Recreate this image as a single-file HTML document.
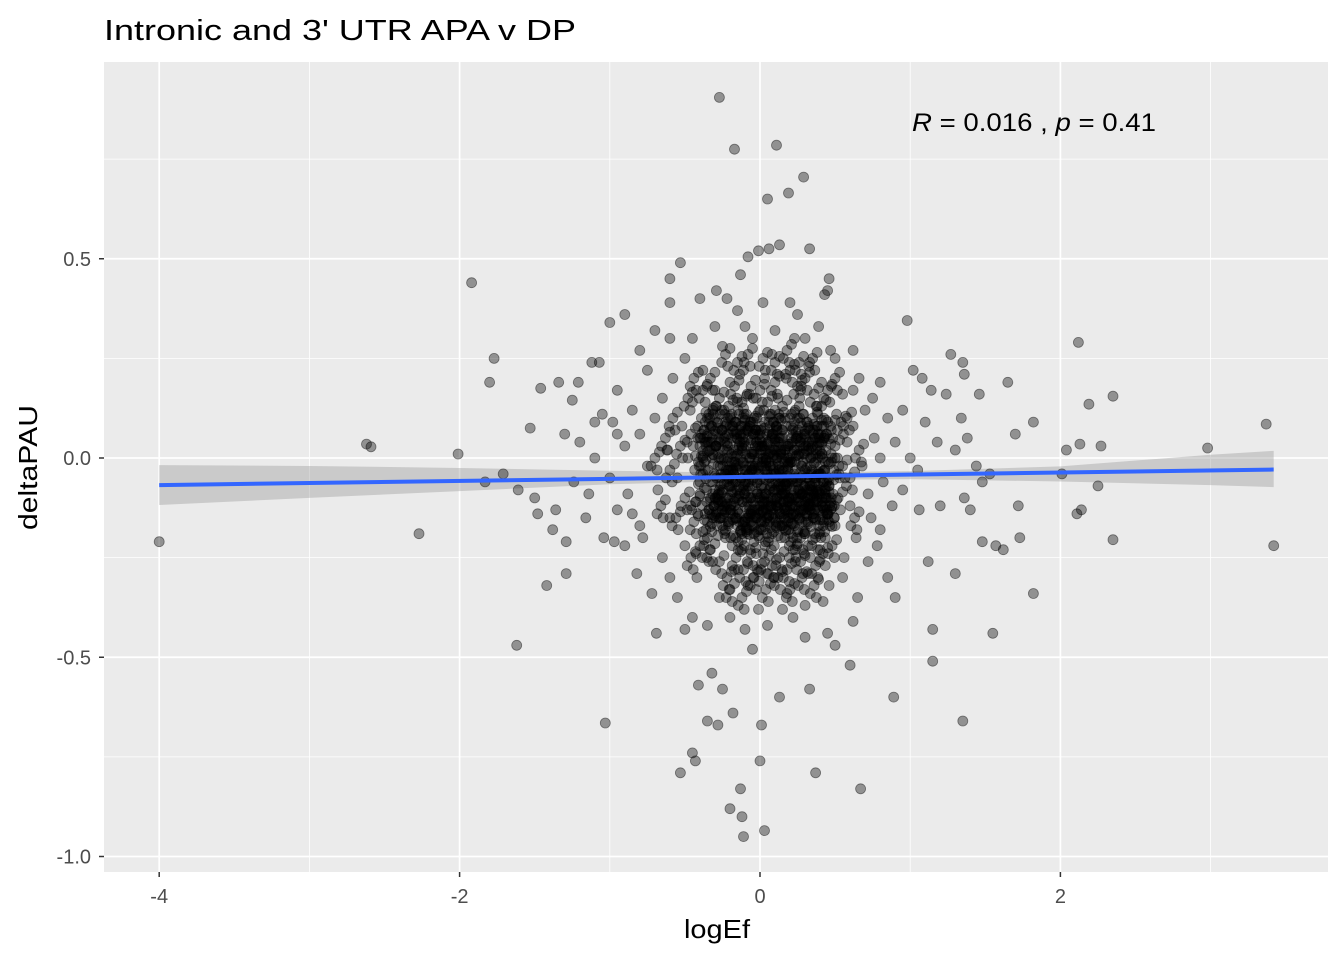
<!DOCTYPE html>
<html><head><meta charset="utf-8"><style>
html,body{margin:0;padding:0;background:#fff;}
svg{display:block;font-family:"Liberation Sans",Arial,sans-serif;}
</style></head><body>
<svg id="chart" width="1344" height="960" viewBox="0 0 1344 960" xmlns="http://www.w3.org/2000/svg">
<rect width="1344" height="960" fill="#fff"/>
<text x="104" y="40" font-size="29" fill="#000" textLength="472" lengthAdjust="spacingAndGlyphs">Intronic and 3' UTR APA v DP</text>
<rect x="104" y="62" width="1224" height="810" fill="#ebebeb"/>
<g id="grid"></g>
<g id="ribbon"></g>
<g id="points"></g>
<g id="fit"></g>
<g id="axes"></g>
<text x="912" y="131" font-size="25" fill="#000" textLength="244" lengthAdjust="spacingAndGlyphs"><tspan font-style="italic">R</tspan> = 0.016 , <tspan font-style="italic">p</tspan> = 0.41</text>
<text x="684" y="938" font-size="26" fill="#000" textLength="66" lengthAdjust="spacingAndGlyphs">logEf</text>
<text transform="translate(37,530) rotate(-90)" font-size="26" fill="#000" textLength="125" lengthAdjust="spacingAndGlyphs">deltaPAU</text>
</svg>
<script>
const xTicks = [-4, -2, 0, 2];
const xTickLabels = ["-4", "-2", "0", "2"];
const xMinor = [-3, -1, 1, 3];
const yTicks = [-1.0, -0.5, 0.0, 0.5];
const yTickLabels = ["-1.0", "-0.5", "0.0", "0.5"];
const yMinor = [-0.75, -0.25, 0.25, 0.75];
const fitX = [-4, 3.42];
const fitY = [-0.068, -0.029];
const ribbonX = [-4, -3, -2, -1, 0, 1, 2, 3, 3.42];
const ribbonLow = [-0.118, -0.100, -0.083, -0.066, -0.056, -0.053, -0.059, -0.068, -0.073];
const ribbonHigh = [-0.018, -0.020, -0.025, -0.032, -0.038, -0.033, -0.021, 0.008, 0.018];
const outlierPoints = [
[-4.0,-0.21],[-2.62,0.035],[-2.59,0.028],[-2.27,-0.19],[-2.01,0.01],[-1.92,0.44],[-1.77,0.25],[-1.80,0.19],
[-1.83,-0.06],[-1.71,-0.04],[-1.62,-0.47],[-1.61,-0.08],[-1.53,0.075],[-1.46,0.175],[-1.42,-0.32],[-1.34,0.19],
[-1.29,-0.21],[-1.29,-0.29],[-1.25,0.145],[-1.21,0.19],[-1.03,-0.665],[-1.00,0.34],[-1.07,0.24],[3.37,0.085],
[3.42,-0.22],[2.98,0.025],[2.35,0.155],[2.35,-0.205],[2.19,0.135],[2.12,0.29],[2.13,0.035],[2.27,0.03],
[2.25,-0.07],[2.14,-0.13],[2.11,-0.14],[2.04,0.02],[2.01,-0.04],[1.82,-0.34],[1.82,0.09],[1.70,0.06],
[1.65,0.19],[1.55,-0.44],[1.35,-0.66],[1.15,-0.51],[1.15,-0.43],[0.98,0.345],[0.89,-0.60],[0.60,-0.52],
[0.67,-0.83],[0.37,-0.79],[0.33,-0.58],[0.13,-0.60],[0.01,-0.67],[0.0,-0.76],[0.03,-0.935],[-0.11,-0.95],
[-0.12,-0.90],[-0.20,-0.88],[-0.13,-0.83],[-0.45,-0.74],[-0.43,-0.76],[-0.53,-0.79],[-0.28,-0.67],[-0.35,-0.66],
[-0.18,-0.64],[-0.41,-0.57],[-0.50,-0.43],[-0.69,-0.44],[-0.27,0.905],[-0.17,0.775],[0.11,0.785],[0.29,0.705],
[0.19,0.665],[0.05,0.65],[0.33,0.525],[0.13,0.535],[0.06,0.525],[-0.01,0.52],[-0.08,0.505],[-0.53,0.49],
[-0.60,0.45],[0.46,0.45],[0.45,0.42],[0.43,0.41],[-0.13,0.46],[1.62,-0.23],[1.72,-0.12],[1.73,-0.20],
[1.48,-0.21],[1.57,-0.22],[1.36,-0.10],[1.40,-0.13],[1.30,-0.29],[1.27,0.26],[1.35,0.24],[1.36,0.21],
[1.46,0.16],[1.34,0.10],[1.38,0.05],[1.24,0.16],[1.18,0.04],[1.10,0.09],[1.12,-0.26],[1.02,0.22],
[1.08,0.20],[1.14,0.17],[1.20,-0.12],[1.06,-0.13],[1.48,-0.06],[1.53,-0.04],[1.30,0.02],[1.44,-0.02],
[-1.36,-0.13],[-1.24,-0.06],[-1.10,0.00],[-1.16,-0.15],[-1.04,-0.20],[-0.97,-0.21],[-1.20,0.04],[-1.30,0.06],
[-1.48,-0.14],[-1.50,-0.10],[-1.38,-0.18],[-1.14,-0.09],[-1.05,0.11],[-0.98,0.09],[-1.12,0.24],[-0.90,0.36],
[-0.80,0.27],[-0.70,0.32],[-0.60,0.39],[-0.40,0.40],[-0.29,0.42],[-0.22,0.40],[-0.15,0.37],[0.20,0.39],
[0.25,0.36],[0.39,0.33],[0.02,0.39],[0.62,0.17],[0.80,0.19],[0.90,-0.35],[0.85,-0.30],[0.62,-0.41],
[0.50,-0.47],[0.45,-0.44],[0.30,-0.45],[0.22,-0.40],[-0.05,-0.48],[-0.25,-0.58],[-0.32,-0.54],[-0.60,-0.30],
[-0.72,-0.34],[-0.82,-0.29],[-0.90,-0.22],[-0.78,-0.20],[-0.85,-0.14],[-0.95,-0.13],[0.72,-0.26],[0.78,-0.22]
];
const corePoints = [
[-0.9,0.03],[-0.8,0.06],[-0.75,-0.02],[-0.7,0.1],[-0.68,-0.08],[-0.65,0.15],[-0.62,0.02],[-0.6,-0.15],
[-0.58,0.2],[-0.55,-0.05],[-0.52,0.08],[-0.5,-0.22],[-0.5,0.25],[-0.48,0.0],[-0.46,-0.12],[-0.45,0.14],
[-0.42,-0.3],[-0.4,0.05],[-0.4,-0.06],[-0.38,0.22],[-0.36,-0.18],[-0.35,0.1],[-0.34,-0.26],[-0.32,0.0],
[-0.3,0.17],[-0.3,-0.1],[-0.28,0.06],[-0.27,-0.35],[-0.26,-0.04],[-0.25,0.28],[-0.24,0.12],[-0.23,-0.2],
[-0.22,0.02],[-0.2,-0.13],[-0.2,0.19],[-0.19,-0.07],[-0.18,0.08],[-0.17,-0.28],[-0.16,-0.02],[-0.15,0.14],
[-0.14,-0.16],[-0.13,0.04],[-0.12,-0.23],[-0.11,0.22],[-0.1,-0.09],[-0.1,0.1],[-0.09,-0.03],[-0.08,-0.32],
[-0.07,0.16],[-0.06,-0.14],[-0.05,0.01],[-0.05,0.3],[-0.04,-0.19],[-0.03,0.07],[-0.02,-0.06],[-0.01,-0.38],
[0.0,0.12],[0.0,-0.1],[0.01,0.03],[0.02,-0.24],[0.03,0.2],[0.04,-0.02],[0.05,-0.15],[0.06,0.09],
[0.07,-0.07],[0.08,0.26],[0.09,-0.3],[0.1,0.02],[0.11,-0.12],[0.12,0.15],[0.13,-0.04],[0.14,-0.2],
[0.15,0.07],[0.16,-0.09],[0.17,0.21],[0.18,-0.34],[0.19,0.0],[0.2,-0.15],[0.21,0.11],[0.22,-0.06],
[0.23,0.3],[0.24,-0.25],[0.25,0.05],[0.26,-0.11],[0.27,0.17],[0.28,-0.02],[0.3,-0.19],[0.31,0.09],
[0.32,-0.29],[0.33,0.24],[0.34,-0.08],[0.35,0.02],[0.36,-0.14],[0.38,0.13],[0.39,-0.04],[0.4,-0.23],
[0.41,0.19],[0.43,0.05],[0.44,-0.1],[0.46,-0.32],[0.47,0.27],[0.48,0.0],[0.5,-0.17],[0.51,0.11],
[0.53,-0.05],[0.55,0.16],[0.56,-0.25],[0.58,0.04],[0.6,-0.12],[0.62,0.08],[0.64,-0.2],[0.66,0.2],
[0.68,-0.02],[0.7,0.12],[0.72,-0.09],[0.74,-0.15],[0.76,0.05],[0.8,0.0],[0.82,-0.06],[0.85,0.1],
[0.88,-0.12],[0.9,0.04],[0.95,-0.08],[1.0,0.0],[-1.0,-0.05],[-0.95,0.06],[-0.88,-0.09],[-0.85,0.12],
[-0.65,-0.25],[-0.55,-0.35],[-0.45,-0.4],[-0.35,-0.42],[-0.2,-0.4],[-0.1,-0.43],[0.05,-0.42],[0.15,-0.38],
[0.3,-0.37],[0.42,-0.36],[0.55,-0.3],[0.65,-0.35],[-0.75,0.22],[-0.6,0.3],[-0.45,0.3],[-0.3,0.33],
[-0.1,0.33],[0.1,0.32],[0.3,0.3],[0.5,0.25],[0.62,0.27],[0.75,0.15],[-0.95,0.17],[-0.8,-0.17],
[0.8,-0.18],[0.95,0.12],[1.05,-0.03],[-1.1,0.09]
];
const denseCorePoints = [
[-0.41,-0.01],[-0.37,0.07],[-0.33,-0.06],[-0.29,0.03],[-0.26,-0.15],[-0.23,0.09],[-0.21,-0.1],[-0.19,0.05],
[-0.17,-0.12],[-0.15,0.01],[-0.13,-0.08],[-0.11,0.06],[-0.09,-0.15],[-0.07,0.0],[-0.05,-0.1],[-0.03,0.03],
[-0.01,-0.13],[0.01,-0.02],[0.03,-0.16],[0.05,0.04],[0.07,-0.12],[0.09,-0.03],[0.11,0.08],[0.13,-0.14],
[0.15,-0.06],[0.17,0.02],[0.19,-0.11],[0.21,-0.01],[0.23,-0.17],[0.25,-0.06],[0.27,0.04],[0.29,-0.13],
[0.31,-0.05],[0.33,0.07],[0.35,-0.1],[0.37,-0.01],[0.39,-0.17],[0.41,0.08],[0.43,-0.03],[0.45,-0.14],
[-0.43,-0.11],[-0.39,0.1],[-0.35,-0.2],[-0.31,0.06],[-0.27,-0.08],[-0.24,0.0],[-0.21,-0.17],[-0.18,-0.03],
[-0.14,0.11],[-0.12,-0.19],[-0.08,-0.07],[-0.06,0.09],[-0.04,-0.21],[-0.02,-0.09],[0.0,0.06],[0.02,-0.18],
[0.04,-0.09],[0.06,-0.01],[0.08,-0.19],[0.1,-0.08],[0.12,0.04],[0.14,-0.08],[0.16,-0.15],[0.18,-0.07],
[0.2,0.1],[0.22,-0.2],[0.24,-0.05],[0.26,0.01],[0.28,-0.16],[0.3,-0.07],[0.32,0.03],[0.34,-0.12],
[0.36,-0.05],[0.38,0.08],[0.4,-0.09],[0.42,-0.17],[0.44,0.02],[0.46,-0.07],[0.48,-0.12],[0.5,0.03],
[-0.46,0.06],[-0.44,-0.16],[-0.4,-0.09],[-0.38,0.0],[-0.34,0.11],[-0.31,-0.12],[-0.28,-0.02],[-0.25,0.07],
[-0.22,-0.13],[-0.19,-0.01],[-0.16,-0.2],[-0.13,0.08],[-0.1,-0.16],[-0.07,-0.04],[-0.04,0.1],[-0.02,-0.15],
[0.01,-0.07],[0.03,0.09],[0.06,-0.2],[0.09,-0.14],[0.11,0.0],[0.13,0.1],[0.16,-0.03],[0.19,-0.18],
[0.21,0.05],[0.24,-0.1],[0.27,-0.2],[0.29,0.06],[0.32,-0.1],[0.35,0.1],[0.37,-0.2],[0.4,0.04],
[0.43,-0.1],[0.47,0.08],[0.52,-0.1],[0.55,-0.02],[0.58,0.1],[0.6,-0.05],[0.63,-0.15],[0.66,0.02],
[-0.5,-0.1],[-0.53,0.03],[-0.56,-0.15],[-0.58,0.1],[-0.6,-0.03],[-0.63,0.05],[-0.66,-0.12],[-0.7,0.0],
[-0.48,0.15],[-0.44,0.2],[-0.38,0.17],[-0.33,0.2],[-0.27,0.15],[-0.21,0.13],[-0.17,0.18],[-0.12,0.14],
[-0.06,0.18],[0.0,0.17],[0.05,0.14],[0.1,0.19],[0.15,0.13],[0.2,0.22],[0.25,0.18],[0.3,0.2],
[0.36,0.16],[0.41,0.13],[0.45,0.17],[0.5,0.2],[0.54,0.09],[-0.46,-0.25],[-0.4,-0.22],[-0.33,-0.23],
[-0.27,-0.26],[-0.22,-0.3],[-0.16,-0.25],[-0.11,-0.28],[-0.06,-0.24],[-0.02,-0.28],[0.03,-0.26],[0.08,-0.27],
[0.13,-0.25],[0.18,-0.28],[0.22,-0.23],[0.27,-0.26],[0.32,-0.22],[0.37,-0.27],[0.42,-0.24],[0.48,-0.22],
[-0.2,-0.33],[-0.12,-0.35],[-0.04,-0.3],[0.04,-0.33],[0.12,-0.3],[0.2,-0.33],[0.28,-0.3],[0.36,-0.32],
[-0.23,0.26],[-0.15,0.24],[-0.08,0.26],[0.02,0.25],[0.1,0.24],[0.18,0.27],[0.26,0.24],[0.35,0.25]
];
const innerCorePoints = [
[-0.38,-0.04],[-0.36,0.03],[-0.34,-0.13],[-0.32,0.08],[-0.3,-0.08],[-0.28,0.01],[-0.26,-0.11],[-0.24,0.05],
[-0.22,-0.06],[-0.2,0.08],[-0.18,-0.14],[-0.16,-0.06],[-0.14,0.03],[-0.12,-0.11],[-0.1,-0.03],[-0.08,0.05],
[-0.06,-0.16],[-0.04,-0.05],[-0.02,0.04],[0.0,-0.12],[0.02,0.0],[0.04,-0.13],[0.06,-0.05],[0.08,0.06],
[0.1,-0.15],[0.12,-0.06],[0.14,0.02],[0.16,-0.11],[0.18,0.0],[0.2,-0.04],[0.22,0.06],[0.24,-0.14],
[0.26,-0.08],[0.28,0.08],[0.3,-0.11],[0.32,-0.16],[0.34,0.0],[0.36,-0.09],[0.38,0.03],[0.4,-0.13],
[0.42,-0.06],[0.44,0.06],[0.46,-0.16],[-0.4,0.03],[-0.35,-0.16],[-0.3,0.1],[-0.25,-0.17],[-0.2,-0.02],
[-0.15,-0.17],[-0.1,0.08],[-0.05,-0.02],[0.0,0.01],[0.05,-0.11],[0.1,0.04],[0.15,-0.17],[0.2,-0.13],
[0.25,0.1],[0.3,-0.03],[0.35,-0.14],[0.4,-0.02],[0.45,-0.1],[-0.33,0.02],[-0.27,-0.12],[-0.23,-0.04],
[-0.17,0.06],[-0.11,-0.07],[-0.07,-0.13],[-0.03,0.07],[0.01,-0.16],[0.07,0.02],[0.11,-0.1],[0.17,-0.09],
[0.23,0.02],[0.27,-0.12],[0.33,-0.07],[0.37,0.05],[0.43,-0.13],[0.49,-0.03],[-0.29,-0.14],[-0.19,-0.09],
[-0.09,-0.18],[0.03,-0.03],[0.13,-0.02],[0.19,-0.15],[0.29,0.03],[0.39,-0.07],[-0.13,0.0],[0.09,0.09]
];

const X0=104, X1=1328, Y0=62, Y1=872;
function sx(v){ return 760 + v*150.2; }
function sy(v){ return 458 - v*398.5; }
const NS="http://www.w3.org/2000/svg";
function mk(tag, attrs, parent){ const e=document.createElementNS(NS,tag); for(const k in attrs) e.setAttribute(k,attrs[k]); parent.appendChild(e); return e; }

const grid=document.getElementById('grid');
xMinor.forEach(v=>{ const l=mk('line',{x1:sx(v),x2:sx(v),y1:Y0,y2:Y1,stroke:'#fff','stroke-width':0.8},grid);

 });
yMinor.forEach(v=>{ const l=mk('line',{x1:X0,x2:X1,y1:sy(v),y2:sy(v),stroke:'#fff','stroke-width':0.8},grid);

 });
xTicks.forEach(v=>{ const l=mk('line',{x1:sx(v),x2:sx(v),y1:Y0,y2:Y1,stroke:'#fff','stroke-width':1.7},grid);

 });
yTicks.forEach(v=>{ const l=mk('line',{x1:X0,x2:X1,y1:sy(v),y2:sy(v),stroke:'#fff','stroke-width':1.7},grid);

 });

const rib=document.getElementById('ribbon');
let d='';
ribbonX.forEach((v,i)=>{ d+=(i?'L':'M')+sx(v)+' '+sy(ribbonHigh[i]); });
for(let i=ribbonX.length-1;i>=0;i--) d+='L'+sx(ribbonX[i])+' '+sy(ribbonLow[i]);
const rp=mk('path',{d:d+'Z',fill:'#999','fill-opacity':0.4},rib);



const pg=document.getElementById('points');
const allPoints = outlierPoints.concat(
  corePoints,
  denseCorePoints,
  denseCorePoints.map(p=>[p[0]+0.03,p[1]+0.015]),
  denseCorePoints.map(p=>[p[0]-0.025,p[1]-0.02]),
  denseCorePoints.map(p=>[p[0]+0.015,p[1]-0.03]),
  innerCorePoints,
  innerCorePoints.map(p=>[p[0]+0.02,p[1]-0.012]),
  innerCorePoints.map(p=>[p[0]-0.015,p[1]+0.02]),
  innerCorePoints.map(p=>[p[0]+0.01,p[1]+0.03]),
  innerCorePoints.map(p=>[p[0]-0.03,p[1]-0.025]),
  innerCorePoints.map(p=>[p[0]+0.035,p[1]+0.01])
);
allPoints.forEach(p=>{
  const c=mk('circle',{cx:sx(p[0]).toFixed(1),cy:sy(p[1]).toFixed(1),r:5,fill:'rgba(0,0,0,0.38)',stroke:'rgba(0,0,0,0.45)','stroke-width':0.8},pg);
  
  
});

const fg=document.getElementById('fit');
const fl=mk('line',{x1:sx(fitX[0]),y1:sy(fitY[0]),x2:sx(fitX[1]),y2:sy(fitY[1]),stroke:'#3366ff','stroke-width':4},fg);



const ax=document.getElementById('axes');
xTicks.forEach((v,i)=>{
  const t=mk('line',{x1:sx(v),x2:sx(v),y1:Y1,y2:Y1+5,stroke:'#333','stroke-width':1.5},ax);
  
  
  const tx=mk('text',{x:sx(v),y:Y1+31,'font-size':20,fill:'#4d4d4d','text-anchor':'middle'},ax);
  tx.textContent=xTickLabels[i];
  
  
});
yTicks.forEach((v,i)=>{
  const t=mk('line',{x1:X0-5,x2:X0,y1:sy(v),y2:sy(v),stroke:'#333','stroke-width':1.5},ax);
  
  
  const tx=mk('text',{x:X0-13,y:sy(v)+7,'font-size':20,fill:'#4d4d4d','text-anchor':'end'},ax);
  tx.textContent=yTickLabels[i];
  
  
});
</script>
</body></html>
